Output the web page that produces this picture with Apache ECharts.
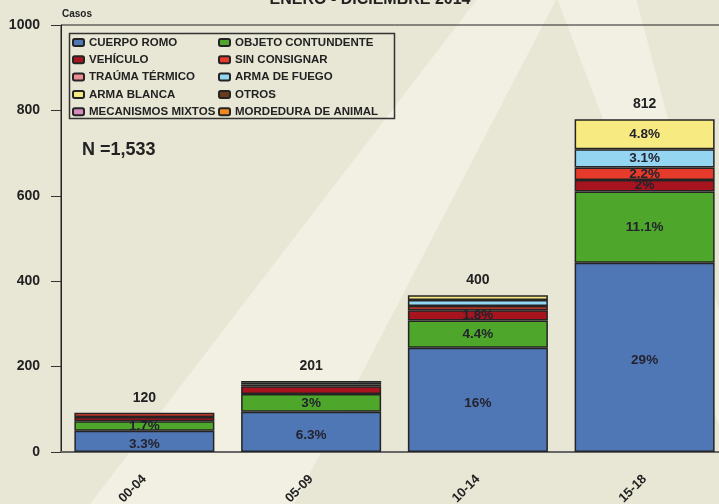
<!DOCTYPE html>
<html>
<head>
<meta charset="utf-8">
<script src="https://cdn.jsdelivr.net/npm/echarts@6/dist/echarts.min.js"></script>
<style>
  html, body { margin: 0; padding: 0; background: #e8e6d4; overflow: hidden; }
  #chart { width: 728px; height: 504px; }
</style>
</head>
<body>
<div id="chart"></div>
<script>
// datos
const categories = ['00-04', '05-09', '10-14', '15-18']
const totals = [120, 201, 400, 812]

const cuerpoRomo = [50, 94, 244, 443]
const objetoContundente = [22, 42, 64, 167]
const vehiculo = [10, 18, 24, 27]
const sinConsignar = [10, 4, 10, 29]
const traumaTermico = [0, 0, 0, 0]
const armaFuego = [0, 4, 14, 43]
const armaBlanca = [0, 4, 11, 70]
const otros = [0, 0, 0, 0]
const mecanismosMixtos = [0, 0, 0, 0]
const mordedura = [0, 0, 0, 0]

const pctCuerpo = ['3.3%', '6.3%', '16%', '29%']
const pctObjeto = ['1.7%', '3%', '4.4%', '11.1%']
const pctVehiculo = ['', '', '1.8%', '2%']
const pctSin = ['', '', '', '2.2%']
const pctFuego = ['', '', '', '3.1%']
const pctBlanca = ['', '', '', '4.8%']
const none = ['', '', '', '']

const yTicks = [0, 200, 400, 600, 800, 1000]

const FONT = '"Liberation Sans", Arial, sans-serif'

const defs = [
    ['CUERPO ROMO', cuerpoRomo, '#4f77b6', pctCuerpo, 3],
    ['OBJETO CONTUNDENTE', objetoContundente, '#4ea72a', pctObjeto, 0],
    ['VEHÍCULO', vehiculo, '#a8141e', pctVehiculo, 0],
    ['SIN CONSIGNAR', sinConsignar, '#e63a2a', pctSin, 0],
    ['TRAÚMA TÉRMICO', traumaTermico, '#ee8c94', none, 0],
    ['ARMA DE FUEGO', armaFuego, '#94d5f2', pctFuego, 0],
    ['ARMA BLANCA', armaBlanca, '#f7ea80', pctBlanca, 0],
    ['OTROS', otros, '#6b3a1a', none, 0],
    ['MECANISMOS MIXTOS', mecanismosMixtos, '#d88ac0', none, 0],
    ['MORDEDURA DE ANIMAL', mordedura, '#f08a1e', none, 0]
]

const series = defs.map(([name, values, color, labels, dy]) => ({
    name: name,
    type: 'bar',
    stack: 'casos',
    barWidth: 140,
    data: values.map(v => v || '-'),
    itemStyle: { color: color, borderColor: '#242424', borderWidth: 1.5 },
    label: {
        show: true,
        position: 'inside',
        offset: [0, dy],
        formatter: p => labels[p.dataIndex],
        color: '#23232e',
        fontFamily: FONT,
        fontWeight: 'bold',
        fontSize: 13.5
    }
}))

series.push({
    name: 'total',
    type: 'bar',
    stack: 'casos',
    barWidth: 140,
    data: totals.map(() => 0),
    itemStyle: { color: 'transparent', borderWidth: 0 },
    label: {
        show: true,
        position: 'top',
        distance: 8,
        formatter: p => totals[p.dataIndex],
        color: '#222',
        fontFamily: FONT,
        fontWeight: 'bold',
        fontSize: 14
    }
})

const legendText = { color: '#222', fontFamily: FONT, fontWeight: 'bold', fontSize: 11.5, lineHeight: 12 }
const legendBase = {
    orient: 'vertical', padding: 0, itemWidth: 11, itemHeight: 7, itemGap: 5.3,
    itemTextGap: 3, selectedMode: false, textStyle: legendText
}

const chart = echarts.init(document.getElementById('chart'))
chart.setOption({
    animation: false,
    backgroundColor: '#e8e6d4',
    textStyle: { fontFamily: FONT },
    grid: {
        left: 61, top: 25, width: 667, height: 427,
        outerBoundsMode: 'none',
        show: true, borderColor: '#222', borderWidth: 1, backgroundColor: 'transparent'
    },
    graphic: [
        { type: 'polygon', z: -10, shape: { points: [[478, -2], [557, -2], [294, 504], [90, 504]] }, style: { fill: '#f1f0e3' } },
        { type: 'polygon', z: -10, shape: { points: [[557, -2], [636, -2], [728, 345], [728, 449]] }, style: { fill: '#f1f0e3' } },
        { type: 'rect', z: 5, shape: { x: 69.5, y: 33.5, width: 325, height: 85 }, style: { fill: 'none', stroke: '#333', lineWidth: 1.5 } },
        { type: 'text', z: 5, left: 62, top: 9, style: { text: 'Casos', fill: '#222', font: 'bold 10px ' + FONT } },
        { type: 'text', z: 5, left: 82, top: 141, style: { text: 'N =1,533', fill: '#222', font: 'bold 18px ' + FONT } },
        { type: 'text', z: 5, x: 370, y: 0, style: { text: 'ENERO - DICIEMBRE 2014', fill: '#222', font: 'bold 16px ' + FONT, align: 'center', verticalAlign: 'middle' } }
    ],
    legend: [
        Object.assign({ left: 72, top: 36.5, data: defs.filter((d, i) => i % 2 === 0).map(d => d[0]) }, legendBase),
        Object.assign({ left: 218, top: 36.5, data: defs.filter((d, i) => i % 2 === 1).map(d => d[0]) }, legendBase)
    ],
    xAxis: {
        type: 'category',
        data: categories,
        axisLine: { lineStyle: { color: '#666', width: 2 } },
        axisTick: { alignWithLabel: true, length: 11, lineStyle: { color: '#333' } },
        axisLabel: { rotate: 45, margin: 25, color: '#222', fontFamily: FONT, fontWeight: 'bold', fontSize: 13 }
    },
    yAxis: {
        type: 'value',
        min: yTicks[0],
        max: yTicks[yTicks.length - 1],
        interval: 200,
        splitLine: { show: false },
        axisLine: { show: true, lineStyle: { color: '#222' } },
        axisTick: { show: true, length: 10, lineStyle: { color: '#333' } },
        axisLabel: { margin: 21, color: '#222', fontFamily: FONT, fontWeight: 'bold', fontSize: 14, formatter: v => String(v) }
    },
    series: series
})
</script>
</body>
</html>
